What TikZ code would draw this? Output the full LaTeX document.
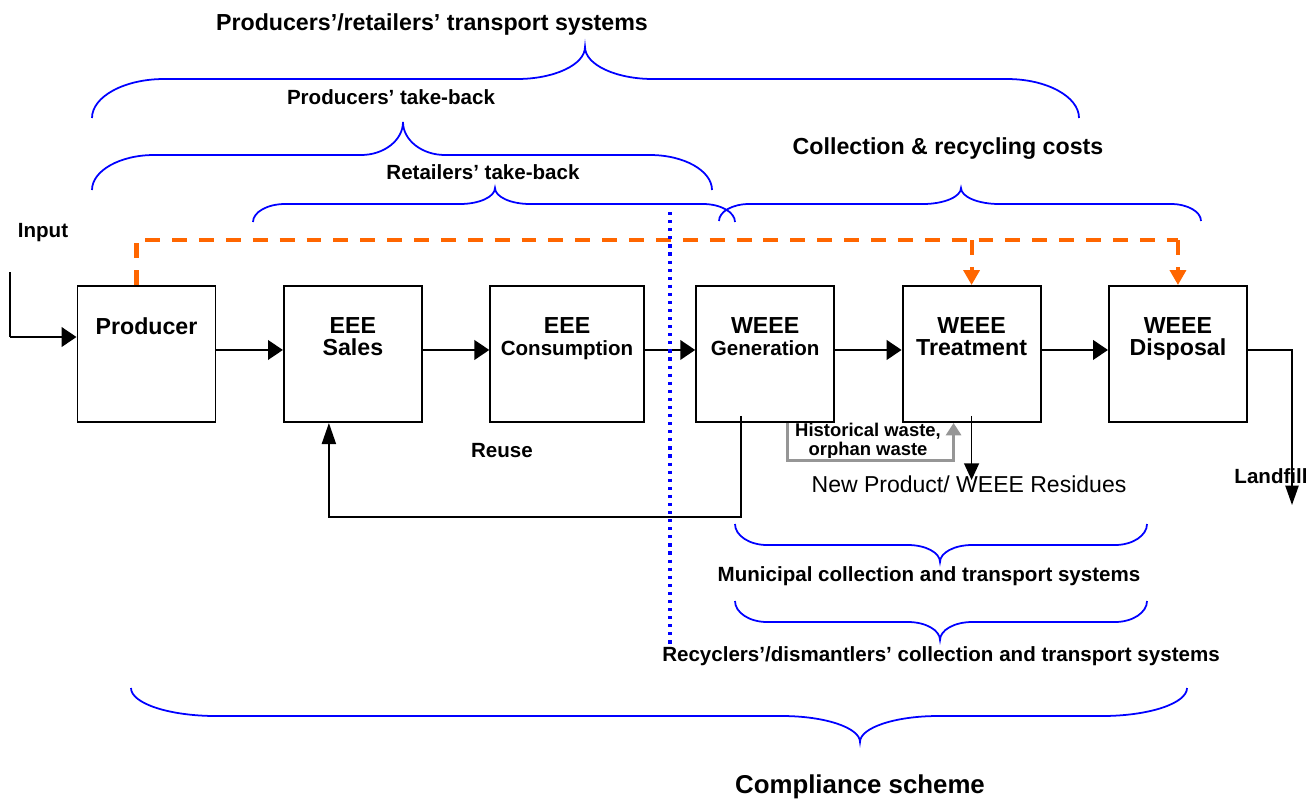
\documentclass[tikz,border=0pt]{standalone}
\usepackage{fontspec}
\setmainfont{Liberation Sans}
\usetikzlibrary{arrows.meta,positioning}

\definecolor{dashorange}{RGB}{255,102,0}
\definecolor{braceblue}{RGB}{0,0,255}
\definecolor{histgray}{RGB}{150,150,150}

\newcommand{\bigfnt}{\bfseries\fontsize{13.2}{12}\selectfont}
\newcommand{\midfnt}{\bfseries\fontsize{11.7}{12}\selectfont}
\newcommand{\smallfnt}{\bfseries\fontsize{10.5}{10.8}\selectfont}

% curly brace: x left, x tip, x right, y ends, y flat, y tip, end radius, tip radius
\newcommand{\curly}[8]{%
  \draw[brace] (#1,#4) .. controls (#1,{#4+0.55*(#5-#4)}) and ({#1+0.45*#7},#5) .. ({#1+#7},#5)
    -- ({#2-#8},#5) .. controls ({#2-0.45*#8},#5) and (#2,{#6+0.55*(#5-#6)}) .. (#2,#6)
    .. controls (#2,{#6+0.55*(#5-#6)}) and ({#2+0.45*#8},#5) .. ({#2+#8},#5)
    -- ({#3-#7},#5) .. controls ({#3-0.45*#7},#5) and (#3,{#4+0.55*(#5-#4)}) .. (#3,#4);}

\begin{document}
\begin{tikzpicture}[x=0.02cm, y=-0.02cm, >={Triangle[length=8.5pt,width=11pt]}, node distance=1.33cm,
	box/.style={draw, line width=1.1pt, minimum width=2.76cm, minimum height=2.72cm, inner sep=0pt},
	boxtxt/.style={font=\bigfnt, align=center, inner sep=0pt},
	lbl/.style={font=\midfnt, inner sep=0pt},
	biglbl/.style={font=\bigfnt, inner sep=0pt},
	flow/.style={line width=1.6pt},
	thinline/.style={line width=0.9pt},
	tieline/.style={draw=dashorange, line width=2.3pt, dash pattern=on 8.5pt off 6.8pt},
	brace/.style={draw=braceblue, line width=1pt},
	divider/.style={draw=blue, line width=1.8pt, dash pattern=on 1.8pt off 2.8pt},
	histline/.style={draw=histgray, line width=1.7pt}]
	\useasboundingbox (0,0) rectangle (1311,799);

	% Boxes
	\node [box]                          (prod)  at (146.5,354) {};
	\node [box, right=of prod]           (sales) {};
	\node [box, right=of sales, minimum width=3.07cm] (cons) {};
	\node [box, right=1.01cm of cons]    (gen)   {};
	\node [box, right=of gen]            (treat) {};
	\node [box, right=of treat]          (disp)  {};

	% Box texts
	\node [boxtxt, below=0.652cm of prod.north]  (prodtxt)  {Producer};
	\node [boxtxt, below=0.652cm of sales.north] (salestxt) {EEE\\Sales};
	\node [boxtxt, below=0.652cm of cons.north]  (constxt)  {EEE\\{\midfnt Consumption}};
	\node [boxtxt, below=0.652cm of gen.north]   (gentxt)   {WEEE\\{\midfnt Generation}};
	\node [boxtxt, below=0.652cm of treat.north] (treattxt) {WEEE\\Treatment};
	\node [boxtxt, below=0.652cm of disp.north]  (disptxt)  {WEEE\\Disposal};

	% Helper points
	\coordinate (input)    at (10,272);
	\coordinate (inbend)   at (10,337);
	\coordinate (dashtop)  at (0,240);
	\coordinate (reusey)   at (0,517);
	\coordinate (histy)    at (0,460);
	\coordinate (residue)  at (0,480);
	\coordinate (landfill) at (1292,505);
	\coordinate (divtop)   at (670,212);
	\coordinate (divbot)   at (670,648);

	% Labels
	\node [lbl]    (inlbl)    at (43,233)   {Input};
	\node [lbl]    (reuselbl) at (502,451)  {Reuse};
	\node [lbl]    (lflbl)    at (1271,476) {Landfill};
	\node [font=\fontsize{13.1}{14}\selectfont, inner sep=0pt] (reslbl) at (969,484) {New Product/ WEEE Residues};
	\begin{scope}
		\clip (780,418) rectangle (960,457);
		\node [font=\smallfnt, align=center, inner sep=0pt] (histlbl) at (868,441) {Historical waste,\\orphan waste};
	\end{scope}

	% Main flow
	\draw [thinline] (input) -- (inbend);
	\draw [flow, ->] (inbend) -- (prod.west |- inbend);
	\draw [flow, ->] ([yshift=2.3pt]prod.east)  -- ([yshift=2.3pt]sales.west);
	\draw [flow, ->] ([yshift=2.3pt]sales.east) -- ([yshift=2.3pt]cons.west);
	\draw [flow, ->] ([yshift=2.3pt]cons.east)  -- ([yshift=2.3pt]gen.west);
	\draw [flow, ->] ([yshift=2.3pt]gen.east)   -- ([yshift=2.3pt]treat.west);
	\draw [flow, ->] ([yshift=2.3pt]treat.east) -- ([yshift=2.3pt]disp.east -| disp.west);
	\draw [thinline, -{Triangle[length=11pt,width=7.5pt]}] ([yshift=2.3pt]disp.east) -| (landfill);
	\draw [thinline, -{Triangle[length=9.5pt,width=8.5pt]}] ([yshift=4pt]treat.south) -- (treat.south |- residue);

	% Reuse and historical waste
	\draw [line width=1.1pt, -{Triangle[length=12pt,width=8pt]}] ([xshift=-0.48cm, yshift=4pt]gen.south)
		|- ([xshift=-0.48cm]sales.south |- reusey) -- ([xshift=-0.48cm]sales.south);
	\draw [histline, -{Triangle[length=7pt,width=8.5pt]}] ([xshift=0.44cm]gen.south)
		|- ([xshift=-0.36cm]treat.south |- histy) -- ([xshift=-0.36cm]treat.south);

	% Cost ties
	\draw [tieline] ([xshift=-0.2cm]prod.north) |- (disp.north |- dashtop);
	\draw [tieline, -{Triangle[length=8.5pt,width=9pt]}] (treat.north |- dashtop) -- (treat.north);
	\draw [tieline, -{Triangle[length=8.5pt,width=9pt]}] (disp.north |- dashtop) -- (disp.north);

	% Divider
	\draw [divider] (divtop) -- (divbot);

	% Braces
	\curly{92}{585}{1079}{118}{79}{47}{72}{68}
	\curly{92}{403}{712}{190}{155}{122}{62}{42}
	\curly{253}{495}{735}{222}{204}{188}{32}{35}
	\curly{719}{961}{1201}{221}{204}{188}{30}{38}
	\curly{735}{940}{1147}{524}{545}{562}{32}{32}
	\curly{735}{940}{1147}{601}{622}{640}{32}{32}
	\curly{131}{860}{1187}{688}{716}{742}{85}{78}

	\node [biglbl] (translbl)  at (432,24)  {Producers’/retailers’ transport systems};
	\node [lbl]    (prodtblbl) at (391,97)  {Producers’ take-back};
	\node [lbl]    (rettblbl)  at (483,172) {Retailers’ take-back};
	\node [biglbl] (costlbl)   at (948,149) {Collection \& recycling costs};
	\node [lbl]    (munilbl)   at (929,576) {Municipal collection and transport systems};
	\node [lbl]    (recylbl)   at (941,656) {Recyclers’/dismantlers’ collection and transport systems};
	\node [font=\bfseries\fontsize{14.7}{16}\selectfont, inner sep=0pt] (complbl) at (860,787) {Compliance scheme};

\end{tikzpicture}
\end{document}
